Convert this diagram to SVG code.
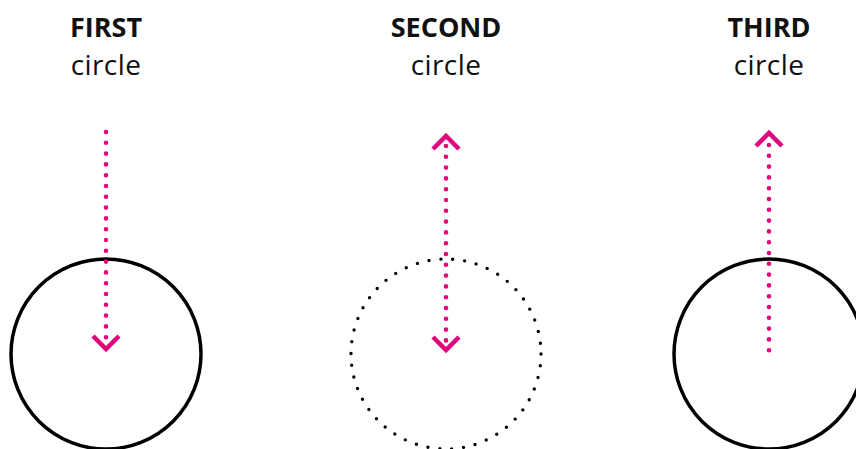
<svg xmlns="http://www.w3.org/2000/svg" width="856" height="449" viewBox="0 0 856 449">
<style>
.t{font-family:"Open Sans","Noto Sans",sans-serif;font-size:28px;fill:#111;text-anchor:middle;letter-spacing:0.4px}
.b{font-weight:700;font-size:27px;letter-spacing:0}
.c{fill:none;stroke:#000;stroke-width:3.5}
.cd{fill:none;stroke:#000;stroke-width:3.4;stroke-linecap:round;stroke-dasharray:0 11.94}
.p{fill:none;stroke:#e0077d;stroke-width:4.6;stroke-linecap:round;stroke-dasharray:0 10.8}
.h{fill:none;stroke:#e0077d;stroke-width:4.5;stroke-linecap:butt;stroke-linejoin:miter}
</style>
<rect width="856" height="449" fill="#fff"/>
<g id="first">
<text class="t b" x="106" y="37">FIRST</text>
<text class="t" x="106" y="75">circle</text>
<circle class="c" cx="106" cy="354" r="95"/>
</g>
<g id="second">
<text class="t b" x="446" y="37">SECOND</text>
<text class="t" x="446" y="75">circle</text>
<circle class="cd" cx="446" cy="354" r="95"/>
</g>
<g id="third">
<text class="t b" x="769" y="37">THIRD</text>
<text class="t" x="769" y="75">circle</text>
<circle class="c" cx="769" cy="354" r="95"/>
</g>
<g id="connectors">
<line class="p" x1="106" y1="132" x2="106" y2="338"/>
<polyline class="h" points="93,336 106,349 119,336"/>
<line class="p" x1="446" y1="146" x2="446" y2="341"/>
<polyline class="h" points="433,149 446,136 459,149"/>
<polyline class="h" points="433,337 446,350 459,337"/>
<line class="p" x1="769" y1="145" x2="769" y2="351"/>
<polyline class="h" points="756,146 769,133 782,146"/>
</g>
</svg>
